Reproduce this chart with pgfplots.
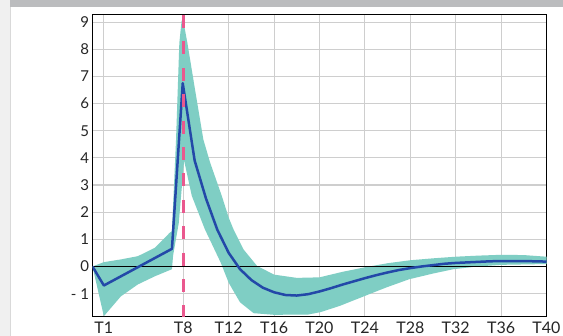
\documentclass[border=0pt]{standalone}
\usepackage{fontspec}
\setmainfont{Lato}
\usepackage{pgfplots}
\pgfplotsset{compat=1.18}
\definecolor{bandc}{RGB}{127,206,196}
\definecolor{meanc}{RGB}{35,72,168}
\definecolor{pinkc}{RGB}{234,88,142}
\definecolor{gridc}{RGB}{206,206,206}
\definecolor{topbar}{RGB}{187,188,190}
\definecolor{stripc}{RGB}{240,240,240}
\begin{document}
\begin{tikzpicture}
\path[use as bounding box] (0,0) rectangle (563pt,336pt);
\fill[white] (0,0) rectangle (563pt,336pt);
\fill[stripc] (0,0) rectangle (10pt,336pt);
\draw[black!15] (10pt,0) -- (10pt,329pt);
\fill[topbar] (10pt,329pt) rectangle (563pt,336pt);
\begin{axis}[
  at={(92.5pt,19pt)}, anchor=south west,
  scale only axis, width=454pt, height=302pt,
  xmin=0, xmax=40, ymin=-1.86, ymax=9.26,
  xtick={1,8,12,16,20,24,28,32,36,40},
  xticklabels={T1,T8,T12,T16,T20,T24,T28,T32,T36,T40},
  ytick={-1,0,1,2,3,4,5,6,7,8,9},
  yticklabels={- 1,0,1,2,3,4,5,6,7,8,9},
  grid=major, grid style={gridc, line width=1.1pt},
  major tick length=0pt,
  axis line style={black, line width=1pt},
  tick label style={text=black!85},
  yticklabel style={font=\fontsize{15}{15}\selectfont},
  xticklabel style={font=\fontsize{16}{16}\selectfont, yshift=-1pt},
  /pgf/number format/assume math mode=true,
  clip=true,
]
% envelope of the simulated paths
\addplot[draw=none, fill=bandc] coordinates {
 (0,0) (1,0.16) (2.5,0.26) (4,0.38) (5.5,0.69) (6.8,1.24) (7,1.3)
 (7.36,4.67) (7.65,8.23) (7.85,9.05) (8.0,9.05) (8.36,8.23) (9,6.6) (9.77,4.67)
 (10.36,3.83) (11.39,2.6) (12,1.8) (12.42,1.37)
 (13.3,0.63) (14.5,0.02) (16,-0.3) (18,-0.42) (20,-0.4) (22,-0.2) (24,-0.03)
 (26,0.12) (28,0.23) (30,0.3) (32,0.36) (34,0.4) (36,0.43) (38,0.42) (40,0.36)
 (40,0.09) (36,0.06) (33.9,0.0) (31.8,-0.1) (30,-0.26) (27.9,-0.47) (25.9,-0.77)
 (23.9,-1.1) (21.8,-1.45) (20.1,-1.68) (19,-1.77) (16,-1.78) (14.2,-1.72)
 (13,-1.32) (12,-0.6) (11.3,0.14) (9.9,1.37) (8.75,2.6) (8.07,3.9)
 (7.6,1.6) (7.1,0.4) (7,-0.1) (5.5,-0.36) (4,-0.66) (2.5,-1.1) (1,-1.83) (0,0)
} -- cycle;
% zero line
\addplot[black, line width=1pt] coordinates {(0,0) (40,0)};
% mean path
\addplot[meanc, line width=2.5pt, line join=round] coordinates {
 (0,0) (1,-0.7) (7,0.65) (7.95,6.75) (9,3.9) (10,2.5) (11,1.35) (12,0.5)
 (13,-0.1) (14,-0.5) (15,-0.78) (16,-0.95) (17,-1.05) (18,-1.07) (19,-1.02)
 (20,-0.92) (21,-0.8) (22,-0.67) (23,-0.55) (24,-0.43) (25,-0.32) (26,-0.22)
 (27,-0.13) (28,-0.06) (29,0.0) (30,0.05) (31,0.1) (32,0.13) (33,0.15)
 (34,0.17) (35,0.19) (36,0.2) (37,0.2) (38,0.2) (39,0.19) (40,0.18)
};
% shock marker
\addplot[pinkc, line width=2.5pt, dash pattern=on 13pt off 13.4pt] coordinates {(8,9.26) (8,-1.86)};
\end{axis}
\end{tikzpicture}
\end{document}
